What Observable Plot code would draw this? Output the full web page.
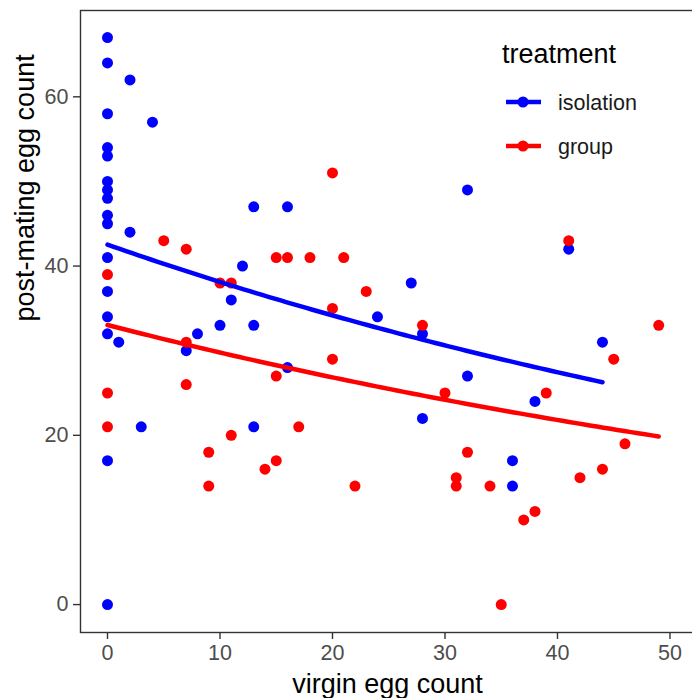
<!DOCTYPE html>
<html><head><meta charset="utf-8">
<script src="https://cdn.jsdelivr.net/npm/d3@7"></script>
<script src="https://cdn.jsdelivr.net/npm/@observablehq/plot@0.6"></script>
<style>
html,body{margin:0;padding:0;background:#fff;}
#wrap{position:relative;width:692px;height:698px;overflow:hidden;}
#wrap svg{max-width:none !important;}
</style></head><body><div id="wrap"></div>
<script>
const treatments = ["isolation", "group"];
const colors = ["#0000ff", "#ff0000"];

const isoX = [0,0,0,0,0,0,0,0,0,0,0,0,0,0,0,0, 1,2,2,3,4,7,8,10,11,12,13,13,13,16,16,24,27,28,28,32,32,36,36,38,41,44];
const isoY = [67,64,58,54,53,50,49,48,46,45,41,37,34,32,17,0, 31,62,44,21,57,30,32,33,36,40,47,33,21,47,28,34,38,32,22,49,27,17,14,24,42,31];

const grpX = [0,0,0,5,7,7,7,9,9,10,11,11,14,15,15,15,16,17,18,20,20,20,21,22,23,28,30,31,31,32,34,35,37,38,39,41,42,44,45,46,49];
const grpY = [39,25,21,43,42,31,26,18,14,38,38,20,16,41,27,17,41,21,41,51,35,29,41,14,37,33,25,15,14,18,14,0,10,11,25,43,15,16,29,19,33];

const xTicks = [0, 10, 20, 30, 40, 50];
const yTicks = [0, 20, 40, 60];
const xLabel = "virgin egg count";
const yLabel = "post-mating egg count";
const legendTitle = "treatment";

const points = [
  ...isoX.map((x, i) => ({x, y: isoY[i], treatment: "isolation"})),
  ...grpX.map((x, i) => ({x, y: grpY[i], treatment: "group"}))
];

// Poisson GLM (log link) fitted by IRLS, like geom_smooth(method = "glm", family = poisson)
function poissonFit(xs, ys) {
  let b0 = Math.log(d3.mean(ys)), b1 = 0;
  for (let it = 0; it < 50; it++) {
    let sw = 0, swx = 0, swz = 0, swxx = 0, swxz = 0;
    for (let i = 0; i < xs.length; i++) {
      const eta = b0 + b1 * xs[i], mu = Math.exp(eta);
      const z = eta + (ys[i] - mu) / mu, w = mu;
      sw += w; swx += w * xs[i]; swz += w * z; swxx += w * xs[i] * xs[i]; swxz += w * xs[i] * z;
    }
    const det = sw * swxx - swx * swx;
    const nb1 = (sw * swxz - swx * swz) / det;
    const nb0 = (swz - nb1 * swx) / sw;
    const done = Math.abs(nb0 - b0) + Math.abs(nb1 - b1) < 1e-10;
    b0 = nb0; b1 = nb1;
    if (done) break;
  }
  const [lo, hi] = d3.extent(xs);
  return d3.range(0, 81).map(k => {
    const x = lo + (hi - lo) * k / 80;
    return {x, y: Math.exp(b0 + b1 * x)};
  });
}

const fits = [
  ...poissonFit(isoX, isoY).map(d => ({...d, treatment: "isolation"})),
  ...poissonFit(grpX, grpY).map(d => ({...d, treatment: "group"}))
];

const W = 694, H = 698;
const plot = Plot.plot({
  width: W, height: H,
  marginLeft: 80, marginRight: 0, marginTop: 10, marginBottom: 66,
  style: {fontFamily: "'Liberation Sans', Arial, sans-serif", background: "#fff", overflow: "visible", maxWidth: "none"},
  x: {domain: [-2.4, 52.18]},
  y: {domain: [-3.3, 70.2]},
  color: {domain: treatments, range: colors},
  marks: [
    Plot.frame({stroke: "#333", strokeWidth: 1.4}),
    Plot.axisX({ticks: xTicks, tickSize: 7, tickPadding: 5, fontSize: 21.5, fill: "#4d4d4d", stroke: "#333", strokeWidth: 1.4, label: null}),
    Plot.axisY({ticks: yTicks, tickSize: 7, tickPadding: 5, fontSize: 21.5, fill: "#4d4d4d", stroke: "#333", strokeWidth: 1.4, label: null}),
    Plot.dot(points, {x: "x", y: "y", fill: "treatment", r: 5.5, stroke: "none"}),
    Plot.line(fits, {x: "x", y: "y", stroke: "treatment", z: "treatment", strokeWidth: 4.5}),
    Plot.text([xLabel], {frameAnchor: "bottom", dy: 52, fontSize: 27, fill: "#000", lineAnchor: "middle"}),
    Plot.text([yLabel], {frameAnchor: "left", dx: -55, rotate: -90, fontSize: 27, fill: "#000", lineAnchor: "middle"})
  ]
});

// Legend inside the panel (top right)
const svg = d3.select(plot);
const lg = svg.append("g").attr("font-family", "'Liberation Sans', Arial, sans-serif").attr("text-anchor", "start");
lg.append("text").attr("x", 502).attr("y", 63).attr("font-size", 27).attr("fill", "#000").text(legendTitle);
treatments.forEach((t, i) => {
  const cy = 102 + i * 44;
  lg.append("line").attr("x1", 506).attr("x2", 541).attr("y1", cy).attr("y2", cy)
    .attr("stroke", colors[i]).attr("stroke-width", 4.5);
  lg.append("circle").attr("cx", 523).attr("cy", cy).attr("r", 5.5).attr("fill", colors[i]);
  lg.append("text").attr("x", 558).attr("y", cy).attr("dy", "0.35em").attr("font-size", 21.5)
    .attr("fill", "#1a1a1a").text(t);
});

document.getElementById("wrap").appendChild(plot);
</script>
</body></html>
